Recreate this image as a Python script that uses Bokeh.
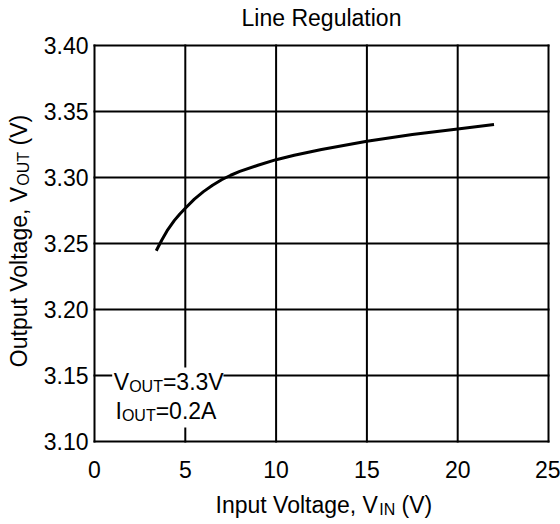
import math
from bokeh.plotting import figure
from bokeh.models import Range1d, FixedTicker, PrintfTickFormatter, Label, BoxAnnotation
from bokeh.embed import file_html
from bokeh.resources import INLINE

# ---- data ----
vin = [3.4, 3.7, 4.0, 4.4, 4.7, 5.0, 5.5, 6.0, 6.5, 7.0, 7.5, 8.0, 9.0, 10.0,
       11.0, 12.5, 15.0, 17.5, 20.0, 22.0]
vout = [3.2445, 3.2525, 3.2597, 3.2675, 3.2724, 3.2767, 3.2836, 3.2893, 3.2941, 3.2983,
        3.3017, 3.3046, 3.3093, 3.3135, 3.3168, 3.3212, 3.3275, 3.3325, 3.3368, 3.3402]
x_ticks = [0, 5, 10, 15, 20, 25]
y_ticks = [3.10, 3.15, 3.20, 3.25, 3.30, 3.35, 3.40]
title_text = "Line Regulation"
xlabel_parts = ["Input Voltage, V", "IN", " (V)"]
ylabel_parts = ["Output Voltage, V", "OUT", " (V)"]
note_lines = [("V", "OUT", "=3.3V"), ("I", "OUT", "=0.2A")]

FONT = "Liberation Sans"
FS = 23
SUB = 16
BASE_FIX = 0.37   # renderer places 'alphabetic' text this many em too low

# canvas and plot-area placement (pixels)
W, H = 560, 524
FL, FR, FT, FB = 94, 548, 45, 441

# Arial / Liberation Sans advance widths (per 1000 em)
ADV = {' ': 278, ',': 278, '(': 333, ')': 333, '.': 278, '=': 584,
       'A': 667, 'I': 278, 'L': 556, 'N': 722, 'O': 778, 'R': 722, 'T': 611,
       'U': 722, 'V': 667, 'a': 556, 'e': 556, 'g': 556, 'i': 222, 'l': 222,
       'n': 556, 'o': 556, 'p': 556, 't': 278, 'u': 556}
for d in "0123456789":
    ADV[d] = 556


def tw(s, size):
    return sum(ADV.get(c, 556) for c in s) / 1000.0 * size


x0, x1 = x_ticks[0], x_ticks[-1]
y0, y1 = y_ticks[0], y_ticks[-1]
kx = (FR - FL) / (x1 - x0)
ky = (FB - FT) / (y1 - y0)
x_range = Range1d(x0 - FL / kx, x1 + (W - FR) / kx)
y_range = Range1d(y0 - (H - FB) / ky, y1 + FT / ky)

p = figure(width=W, height=H, x_range=x_range, y_range=y_range,
           title=None, output_backend="svg", toolbar_location=None)
p.min_border = 0
p.min_border_left = 0
p.min_border_right = 0
p.min_border_top = 0
p.min_border_bottom = 0
p.background_fill_color = "white"
p.border_fill_color = "white"
p.outline_line_color = None
p.xgrid.visible = False
p.ygrid.visible = False

p.xaxis.ticker = FixedTicker(ticks=x_ticks)
p.yaxis.ticker = FixedTicker(ticks=y_ticks)
p.xaxis.formatter = PrintfTickFormatter(format="%d")
p.yaxis.formatter = PrintfTickFormatter(format="%.2f")
p.xaxis.fixed_location = y0
p.yaxis.fixed_location = x0
for ax in (p.xaxis, p.yaxis):
    ax.axis_line_color = None
    ax.major_tick_line_color = None
    ax.minor_tick_line_color = None
    ax.major_tick_out = 0
    ax.major_tick_in = 0
    ax.minor_tick_out = 0
    ax.minor_tick_in = 0
    ax.major_label_text_font = FONT
    ax.major_label_text_font_size = f"{FS}px"
    ax.major_label_text_color = "black"
    ax.axis_label = None
p.xaxis.major_label_standoff = 19
p.yaxis.major_label_standoff = 6

# grid lines and plot border, drawn at the tick positions
p.segment(x0=x_ticks, y0=[y0] * len(x_ticks), x1=x_ticks, y1=[y1] * len(x_ticks),
          line_color="black", line_width=2, line_cap="square")
p.segment(x0=[x0] * len(y_ticks), y0=y_ticks, x1=[x1] * len(y_ticks), y1=y_ticks,
          line_color="black", line_width=2, line_cap="square")

p.line(vin, vout, line_color="black", line_width=3)


def add_text(x, y, text, size, xo=0.0, yo=0.0, rotated=False, align="left"):
    """Place text with its alphabetic baseline at (x, y) + offset (pixels)."""
    lead = len(text) - len(text.lstrip(" "))
    if lead:
        shift = tw(" " * lead, size)
        text = text.lstrip(" ")
        if rotated:
            yo += shift
        else:
            xo += shift
    fix = BASE_FIX * size
    if rotated:
        xo -= fix
    else:
        yo += fix
    p.add_layout(Label(x=x, y=y, x_offset=xo, y_offset=yo, text=text,
                       angle=math.pi / 2 if rotated else 0.0,
                       text_font=FONT, text_font_size=f"{size}px", text_color="black",
                       text_align=align, text_baseline="alphabetic"))


xmid = (x0 + x1) / 2
ymid = (y0 + y1) / 2

# title
add_text(xmid, y1, title_text, FS, yo=19, align="center")

sizes = [FS, SUB, FS]
drops = [0, 2, 0]

# x axis label with subscript
total = sum(tw(t, s) for t, s in zip(xlabel_parts, sizes))
xo = -total / 2 + 2.4
for t, s, dr in zip(xlabel_parts, sizes, drops):
    add_text(xmid, y0, t, s, xo=xo, yo=-72 - dr)
    xo += tw(t, s)

# y axis label (rotated) with subscript
total = sum(tw(t, s) for t, s in zip(ylabel_parts, sizes))
yo = 2.5 - total / 2
for t, s, dr in zip(ylabel_parts, sizes, drops):
    add_text(x0, ymid, t, s, xo=-66.7 + dr, yo=yo, rotated=True)
    yo += tw(t, s)

# condition note with a white backing box
p.add_layout(BoxAnnotation(left=0.975, right=7.10, bottom=3.1106, top=3.1561,
                           fill_color="white", fill_alpha=1.0, line_alpha=0))
starts = [19.3, 21.0]
base = [-15, -44]
for (a, sub, b), xs, yb in zip(note_lines, starts, base):
    xo = xs
    for t, s, dr in ((a, FS, 0), (sub, SUB, 2), (b, FS, 0)):
        add_text(x0, 3.15, t, s, xo=xo, yo=yb - dr)
        xo += tw(t, s)

open("out.html", "w").write(file_html(p, INLINE))
